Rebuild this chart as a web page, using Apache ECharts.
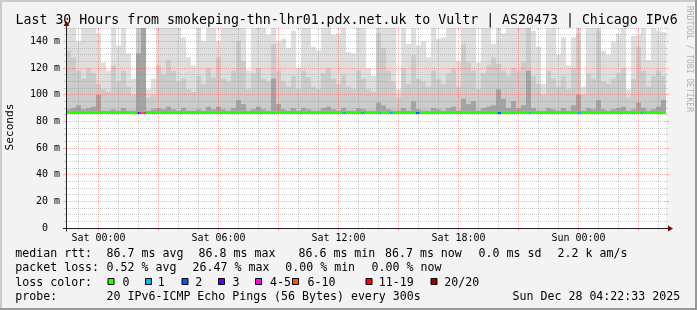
<!DOCTYPE html>
<html><head><meta charset="utf-8">
<script src="https://cdn.jsdelivr.net/npm/echarts@6/dist/echarts.min.js"></script>
<style>html,body{margin:0;padding:0;background:#f3f3f3;}#c{width:697px;height:310px;}</style>
</head><body><div id="c"></div>
<script>
// ---- time frame (hours relative to Sat 00:00) ----
const startHour = -1.6242;   // Fri 22:22:33
const endHour = 28.3758;     // Sun 04:22:33
const columnHours = 0.25;    // smoke columns of 15 min
const slotHours = 5 / 60;    // 5 minute ping step
const smokeFloor = 86.2;     // lowest ping rtt (ms)

// ---- smoke: upper edges of the shaded ping bands (ms) ----
const smokeHi = [
150,150,140,150,150,150,146,124,118,150,137,150,131,112,150,150,104,112,150,150,150,150,150,143,128,122,150,140,150,150,
140,150,150,150,150,150,118,150,150,150,145,150,140,142,135,148,120,150,150,136,133,150,150,145,146,150,132,131,150,150,
120,114,150,150,150,150,104,150,138,150,137,140,128,150,142,143,150,150,125,150,150,150,124,150,150,138,150,146,150,150,
150,150,150,148,136,108,150,150,130,143,122,143,150,106,150,150,150,133,130,140,146,150,104,144,145,150,126,150,148,147];
const smokeMid = [
133,128,118,112,120,116,108,104,102,122,110,118,106,100,150,150,98,100,122,115,126,118,110,112,104,102,114,108,120,113,
128,112,110,118,140,125,104,116,120,112,110,138,118,110,106,114,104,118,113,106,104,116,120,112,108,115,106,104,118,112,
104,102,146,135,118,110,98,120,108,130,112,110,106,118,112,108,116,120,106,138,124,118,104,116,122,128,123,118,114,120,
118,124,150,114,108,100,118,112,106,114,104,120,146,100,116,112,148,110,108,112,116,120,98,112,136,118,106,114,118,114];
const smokeLow = [
89,90,92,89,90,91,100,88,88,89,88,90,88,88,131,150,88,89,90,89,91,89,88,90,88,88,89,88,91,89,
91,89,88,90,96,93,88,89,91,89,88,112,93,89,88,90,88,90,89,88,88,90,91,89,88,90,88,88,90,89,
88,88,94,92,89,88,88,90,88,95,89,88,88,90,89,88,90,91,88,97,93,95,88,90,91,92,104,97,90,95,
90,92,118,90,88,88,90,89,88,90,88,92,100,88,90,89,96,89,88,89,90,91,88,89,94,90,88,89,91,96];
const medianRtt = [
86.7,86.7,86.7,86.7,86.6,86.7,86.7,86.7,86.7,86.7,86.7,86.7,86.7,86.7,86.8,86.8,86.7,86.7,86.7,86.7,86.7,86.7,86.6,86.7,86.7,86.7,86.7,86.7,86.7,86.7,
86.7,86.7,86.7,86.7,86.7,86.7,86.7,86.6,86.7,86.7,86.7,86.7,86.7,86.7,86.7,86.7,86.7,86.7,86.7,86.7,86.7,86.7,86.7,86.7,86.7,86.7,86.7,86.7,86.7,86.7,
86.7,86.7,86.7,86.7,86.7,86.7,86.7,86.7,86.7,86.7,86.7,86.7,86.7,86.7,86.7,86.7,86.7,86.7,86.7,86.7,86.7,86.7,86.7,86.7,86.7,86.7,86.7,86.7,86.7,86.7,
86.7,86.7,86.7,86.7,86.7,86.7,86.7,86.7,86.7,86.7,86.7,86.7,86.7,86.7,86.7,86.7,86.7,86.7,86.7,86.7,86.7,86.7,86.7,86.7,86.7,86.7,86.7,86.7,86.7,86.7];

// ---- packet loss events: 5-min slot index from start, lost pings of 20 ----
const lossSlot  = [43,44,45,46,47,166,167,177,178,188,194,195,210,211,259,260,278,307,308,345];
const lossCount = [3, 5, 6, 6, 5, 1,  1,  1,  1,  1,  1,  1,  2,  2,  2,  2,  1,  1,  1,  1];

// ---- axes / ticks ----
const gridHours = [-1,0,1,2,3,4,5,6,7,8,9,10,11,12,13,14,15,16,17,18,19,20,21,22,23,24,25,26,27,28];
const gridMs = [5,10,15,20,25,30,35,40,45,50,55,60,65,70,75,80,85,90,95,100,105,110,115,120,125,130,135,140,145,150];
const xLabelHours = [0,6,12,18,24];
const xLabelText = ['Sat 00:00','Sat 06:00','Sat 12:00','Sat 18:00','Sun 00:00'];
const yLabelMs = [0,20,40,60,80,100,120,140];

// ---- texts ----
const titleText = 'Last 30 Hours from smokeping-thn-lhr01.pdx.net.uk to Vultr | AS20473 | Chicago IPv6';
const rttStats = ['86.7 ms avg','86.8 ms max','86.6 ms min','86.7 ms now','0.0 ms sd','2.2 k am/s'];
const lossStats = ['0.52 % avg','26.47 % max','0.00 % min','0.00 % now'];
const lossLegendLabel = ['0','1','2','3','4-5','6-10','11-19','20/20'];
const lossLegendColor = ['#26ff00','#00b8ff','#0059ff','#5e00ff','#ff00f0','#ff5500','#ff0000','#a10000'];
const probeText = '20 IPv6-ICMP Echo Pings (56 Bytes) every 300s';
const dateText = 'Sun Dec 28 04:22:33 2025';

function lossColor(n) {
  if (n <= 0) return lossLegendColor[0];
  if (n === 1) return lossLegendColor[1];
  if (n === 2) return lossLegendColor[2];
  if (n === 3) return lossLegendColor[3];
  if (n <= 5) return lossLegendColor[4];
  if (n <= 10) return lossLegendColor[5];
  if (n <= 19) return lossLegendColor[6];
  return lossLegendColor[7];
}

const mono = "'DejaVu Sans Mono', monospace";
const GRID_MINOR = 'rgba(130,130,130,0.4)';
const GRID_MAJOR = 'rgba(255,0,0,0.3)';

const smokeData = smokeHi.map((h, i) => [startHour + i * columnHours, startHour + (i + 1) * columnHours, h, smokeMid[i], smokeLow[i]]);
const medianData = medianRtt.map((m, i) => [startHour + i * columnHours, startHour + (i + 1) * columnHours, m]);
const lossData = lossSlot.map((s, i) => [startHour + s * slotHours, startHour + (s + 1) * slotHours, medianRtt[Math.floor(s * slotHours / columnHours)], lossCount[i]]);

function txt(x, y, text, size, extra) {
  return Object.assign({type: 'text', x: x, y: y, z: 20,
    style: {text: text, font: size + 'px ' + mono, fill: '#000', align: 'left', verticalAlign: 'middle'}}, extra || {});
}
const LF = 11.6;
const rowY = [253.9, 268.2, 282.5, 296.5];
const graphics = [
  // frame
  {type: 'rect', shape: {x: 0, y: 0, width: 697, height: 2}, style: {fill: '#cbcbcb'}, z: 20},
  {type: 'rect', shape: {x: 0, y: 0, width: 2, height: 310}, style: {fill: '#cbcbcb'}, z: 20},
  {type: 'rect', shape: {x: 0, y: 308, width: 697, height: 2}, style: {fill: '#999999'}, z: 21},
  {type: 'rect', shape: {x: 695, y: 0, width: 2, height: 310}, style: {fill: '#999999'}, z: 21},
  // axes
  {type: 'line', shape: {x1: 63, y1: 228.5, x2: 668, y2: 228.5}, style: {stroke: '#222', lineWidth: 1}, z: 20},
  {type: 'line', shape: {x1: 66.5, y1: 25, x2: 66.5, y2: 231.5}, style: {stroke: '#222', lineWidth: 1}, z: 20},
  {type: 'polygon', shape: {points: [[668, 225.5], [673, 228.5], [668, 231.5]]}, style: {fill: '#7f0000'}, z: 21},
  {type: 'polygon', shape: {points: [[63.5, 26], [66.5, 21], [69.5, 26]]}, style: {fill: '#7f0000'}, z: 21},
  // title / side texts
  txt(15.5, 20.1, titleText, 13.25),
  txt(10.5, 127, 'Seconds', 11.2, {rotation: Math.PI / 2, style: {text: 'Seconds', font: '11.2px ' + mono, fill: '#000', align: 'center', verticalAlign: 'middle'}}),
  txt(689.5, 59, 'RRDTOOL / TOBI OETIKER', 8, {rotation: -Math.PI / 2, style: {text: 'RRDTOOL / TOBI OETIKER', font: '8px ' + mono, fill: '#b0b0b0', align: 'center', verticalAlign: 'middle'}}),
  // legend rows
  txt(15.3, rowY[0], 'median rtt:', LF),
  txt(15.3, rowY[1], 'packet loss:', LF),
  txt(15.3, rowY[2], 'loss color:', LF),
  txt(15.3, rowY[3], 'probe:', LF),
  txt(106.6, rowY[3], probeText, LF),
  txt(512.6, rowY[3], dateText, LF)
];
const rttX = [106.6, 198.6, 298.5, 385.0, 478.6, 557.6];
rttStats.forEach((s, i) => graphics.push(txt(rttX[i], rowY[0], s, LF)));
const lossX = [106.6, 192.6, 285.3, 371.6];
lossStats.forEach((s, i) => graphics.push(txt(lossX[i], rowY[1], s, LF)));
const boxX = [108, 145.5, 182, 218.5, 255.5, 292.5, 366, 431];
const boxLabelX = [122.6, 157.8, 195.3, 232.6, 270.0, 307.6, 378.8, 444.3];
lossLegendLabel.forEach((s, i) => {
  graphics.push({type: 'rect', shape: {x: boxX[i], y: 278.5, width: 6, height: 6}, style: {fill: lossLegendColor[i], stroke: '#000', lineWidth: 1}, z: 20});
  graphics.push(txt(boxLabelX[i], rowY[2], s, LF));
});

const option = {
  animation: false,
  backgroundColor: '#f3f3f3',
  grid: {left: 66, top: 28, width: 600, height: 200, show: true, backgroundColor: '#ffffff', borderWidth: 0, containLabel: false, outerBoundsMode: 'none'},
  xAxis: {
    type: 'value', min: startHour, max: endHour,
    axisLine: {show: false}, axisTick: {show: false}, splitLine: {show: false},
    axisLabel: {customValues: xLabelHours, margin: 5, fontFamily: mono, fontSize: 10, color: '#000',
      formatter: v => { const k = xLabelHours.indexOf(Math.round(v)); return k >= 0 ? xLabelText[k] : ''; }}
  },
  yAxis: {
    type: 'value', min: 0, max: 150,
    axisLine: {show: false}, axisTick: {show: false}, splitLine: {show: false},
    axisLabel: {customValues: yLabelMs, margin: 6, fontFamily: mono, fontSize: 10, color: '#000',
      formatter: v => v === 0 ? '0\u00a0\u00a0' : v + ' m'}
  },
  series: [
    { // smoke
      type: 'custom', z: 1, silent: true, clip: true,
      encode: {x: [0, 1], y: [2, 3, 4]},
      data: smokeData,
      renderItem: (params, api) => {
        const x0 = api.coord([api.value(0), 0])[0];
        const x1 = api.coord([api.value(1), 0])[0];
        const yb = api.coord([0, smokeFloor])[1];
        const layers = [[api.value(2), '#dedede'], [api.value(3), '#cbcbcb'], [api.value(4), '#a4a4a4']];
        return {type: 'group', children: layers.map(l => {
          const yt = api.coord([0, l[0]])[1];
          return {type: 'rect', shape: {x: x0, y: yt, width: x1 - x0, height: yb - yt}, style: {fill: l[1]}};
        })};
      }
    },
    { // vertical grid
      type: 'custom', z: 2, silent: true,
      data: gridHours.map(h => [h, 0]),
      renderItem: (params, api) => {
        const cs = params.coordSys;
        const h = api.value(0);
        const major = h % 3 === 0;
        const x = Math.floor(api.coord([h, 0])[0]) + 0.5;
        const col = major ? GRID_MAJOR : GRID_MINOR;
        const len = major ? 3 : 2;
        return {type: 'group', children: [
          {type: 'line', shape: {x1: x, y1: cs.y, x2: x, y2: cs.y + cs.height}, style: {stroke: col, lineWidth: 1, lineDash: [1, 1]}},
          {type: 'line', shape: {x1: x, y1: cs.y, x2: x, y2: cs.y + len}, style: {stroke: col, lineWidth: 1}},
          {type: 'line', shape: {x1: x, y1: cs.y + cs.height, x2: x, y2: cs.y + cs.height + len}, style: {stroke: col, lineWidth: 1}}
        ]};
      }
    },
    { // horizontal grid
      type: 'custom', z: 2, silent: true,
      data: gridMs.map(v => [startHour, v]),
      renderItem: (params, api) => {
        const cs = params.coordSys;
        const v = api.value(1);
        const major = v % 20 === 0;
        const y = Math.floor(api.coord([startHour, v])[1]) + 0.5;
        const col = major ? GRID_MAJOR : GRID_MINOR;
        const len = major ? 3 : 2;
        return {type: 'group', children: [
          {type: 'line', shape: {x1: cs.x, y1: y, x2: cs.x + cs.width, y2: y}, style: {stroke: col, lineWidth: 1, lineDash: [1, 1]}},
          {type: 'line', shape: {x1: cs.x - len, y1: y, x2: cs.x, y2: y}, style: {stroke: col, lineWidth: 1}},
          {type: 'line', shape: {x1: cs.x + cs.width, y1: y, x2: cs.x + cs.width + len, y2: y}, style: {stroke: col, lineWidth: 1}}
        ]};
      }
    },
    { // median rtt line (no loss)
      type: 'custom', z: 3, silent: true,
      encode: {x: [0, 1], y: 2},
      data: medianData,
      renderItem: (params, api) => {
        const x0 = api.coord([api.value(0), 0])[0];
        const x1 = api.coord([api.value(1), 0])[0];
        const y = Math.floor(api.coord([0, api.value(2)])[1]);
        return {type: 'rect', shape: {x: x0, y: y, width: x1 - x0, height: 2}, style: {fill: lossLegendColor[0]}};
      }
    },
    { // median segments coloured by loss
      type: 'custom', z: 4, silent: true,
      encode: {x: [0, 1], y: 2},
      data: lossData,
      renderItem: (params, api) => {
        const x0 = api.coord([api.value(0), 0])[0];
        const x1 = api.coord([api.value(1), 0])[0];
        const y = Math.floor(api.coord([0, api.value(2)])[1]);
        return {type: 'rect', shape: {x: x0, y: y, width: x1 - x0, height: 2}, style: {fill: lossColor(api.value(3))}};
      }
    }
  ],
  graphic: graphics
};
const chart = echarts.init(document.getElementById('c'), null, {width: 697, height: 310});
chart.setOption(option);
</script>
</body></html>
